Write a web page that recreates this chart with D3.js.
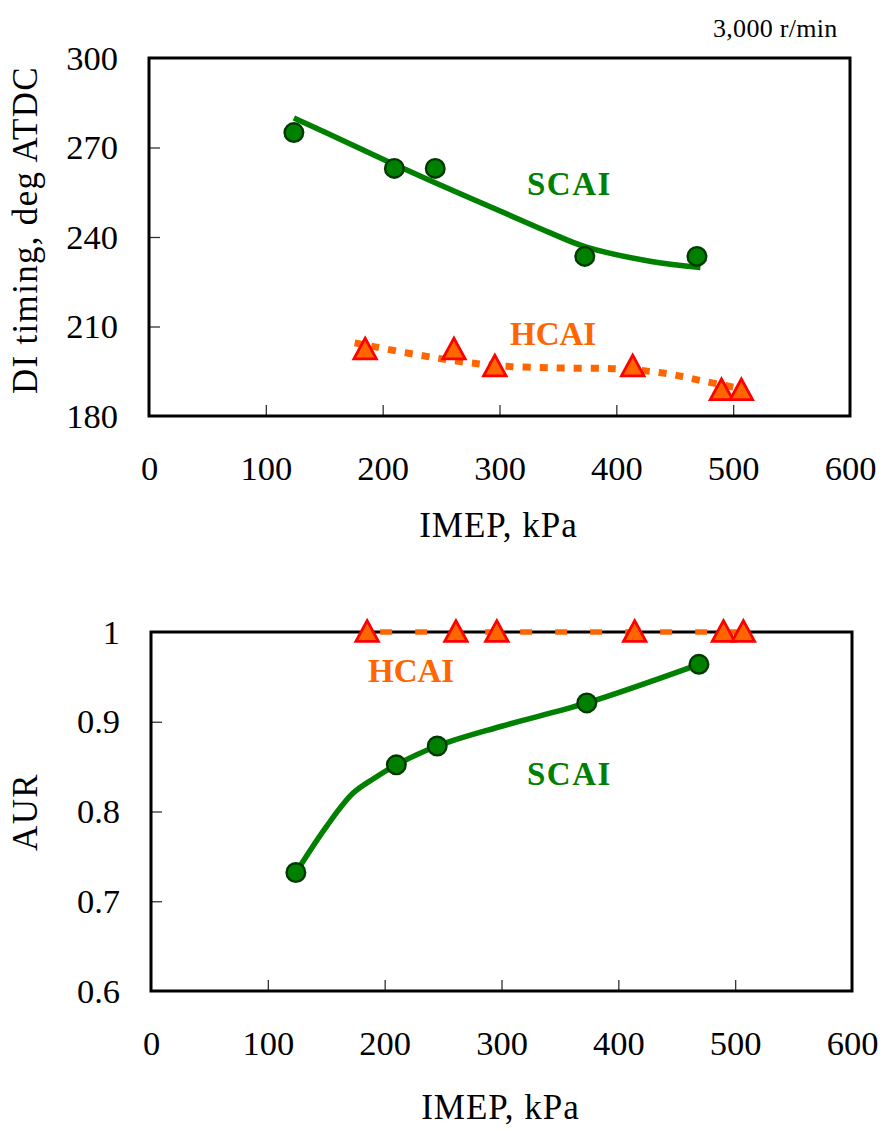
<!DOCTYPE html>
<html>
<head>
<meta charset="utf-8">
<script src="https://cdn.jsdelivr.net/npm/d3@7"></script>
<style>
  html, body { margin: 0; padding: 0; background: #fff; }
  svg { display: block; font-family: "Liberation Serif", "Times New Roman", serif; }
</style>
</head>
<body>
<svg id="chart" width="883" height="1131"></svg>
<script>
// ---- Data ----
// Measured points: IMEP (kPa)
const scaiImep = [124, 210, 245, 373, 469];
const hcaiImep = [185, 261, 296, 414, 490, 507];

// DI timing (deg ATDC)
const scaiTiming = [275, 263, 263, 233.5, 233.5];
const hcaiTiming = [202.3, 202.3, 196.6, 196.6, 188.6, 188.6];

// AUR
const scaiAur = [0.732, 0.852, 0.873, 0.921, 0.964];
const hcaiAur = [1, 1, 1, 1, 1, 1];

// Trend curves, [IMEP, value]
const scaiTimingTrend = [[124, 279.9], [170, 271.6], [209, 264.5], [243, 258.5], [300, 248.8],
                         [344, 241.3], [373, 236.8], [430, 231.8], [472, 229.8]];
const hcaiTimingTrend = [[176, 204.5], [220, 201.2], [260, 198.6], [300, 196.8], [350, 196.1],
                         [400, 195.8], [440, 194.4], [472, 191.9], [505, 189.3]];
const scaiAurTrend = [[124, 0.732], [150, 0.783], [173, 0.8205], [191, 0.837], [210, 0.852],
                      [245, 0.873], [300, 0.895], [373, 0.921], [469, 0.964]];
const hcaiAurTrend = [[185, 1], [507, 1]];

// Axis ticks
const xTicks = [0, 100, 200, 300, 400, 500, 600];
const timingTicks = [180, 210, 240, 270, 300];
const aurTicks = [0.6, 0.7, 0.8, 0.9, 1];

const GREEN = "#008000", GREEN_DARK = "#003a00";
const ORANGE = "#FF6600", RED = "#FF0000";
const SERIF = "'Liberation Serif', 'Times New Roman', serif";

const svg = d3.select("#chart");

function triPath(s) {
  const h = s * 0.92;
  return `M0,${-h * 0.55}L${s / 2},${h * 0.45}L${-s / 2},${h * 0.45}Z`;
}

function panel(opts) {
  const x = d3.scaleLinear().domain([0, 600]).range([opts.left, opts.right]);
  const y = d3.scaleLinear().domain(opts.yDomain).range([opts.bottom, opts.top]);
  const g = svg.append("g");

  // x axis: inward ticks, labels below
  const xAxis = d3.axisBottom(x).tickValues(xTicks).tickSizeInner(-11).tickSizeOuter(0).tickPadding(40);
  const gx = g.append("g").attr("transform", `translate(0,${opts.bottom})`).call(xAxis);
  gx.select(".domain").remove();
  gx.selectAll(".tick line").attr("stroke", "#333").attr("stroke-width", 1.3)
    .filter(d => d === 0 || d === 600).remove();
  gx.selectAll(".tick text").attr("font-size", 34.5).attr("fill", "#000")
    .attr("font-family", SERIF);

  // y axis: inward ticks, labels to the left
  const yAxis = d3.axisLeft(y).tickValues(opts.yTicks).tickFormat(opts.yFormat)
    .tickSizeInner(-11).tickSizeOuter(0).tickPadding(31);
  const gy = g.append("g").attr("transform", `translate(${opts.left},0)`).call(yAxis);
  gy.select(".domain").remove();
  gy.selectAll(".tick line").attr("stroke", "#333").attr("stroke-width", 1.3)
    .filter(d => d === opts.yDomain[0] || d === opts.yDomain[1]).remove();
  gy.selectAll(".tick text").attr("font-size", 34.5).attr("fill", "#000")
    .attr("font-family", SERIF);

  // frame
  g.append("rect")
    .attr("x", opts.left).attr("y", opts.top)
    .attr("width", opts.right - opts.left).attr("height", opts.bottom - opts.top)
    .attr("fill", "none").attr("stroke", "#000").attr("stroke-width", 3);

  // axis titles
  g.append("text")
    .attr("x", (opts.left + opts.right) / 2 - 1).attr("y", opts.xTitleY)
    .attr("text-anchor", "middle").attr("font-size", 35).attr("letter-spacing", 1)
    .text("IMEP, kPa");
  g.append("text")
    .attr("transform", `translate(37,${opts.yTitleY}) rotate(-90)`)
    .attr("text-anchor", "middle").attr("font-size", 35).attr("letter-spacing", 1.3)
    .text(opts.yTitle);

  const line = d3.line().x(d => x(d[0])).y(d => y(d[1])).curve(d3.curveCatmullRom.alpha(0.5));

  // HCAI trend
  g.append("path").datum(opts.hcaiTrend).attr("d", line)
    .attr("fill", "none").attr("stroke", ORANGE).attr("stroke-width", opts.hcaiWidth)
    .attr("stroke-dasharray", opts.hcaiDash).attr("stroke-dashoffset", opts.hcaiOffset);

  // SCAI trend
  g.append("path").datum(opts.scaiTrend).attr("d", line)
    .attr("fill", "none").attr("stroke", GREEN).attr("stroke-width", 5.5)
    .attr("stroke-linejoin", "round");

  // SCAI markers
  g.selectAll("circle.scai").data(d3.zip(scaiImep, opts.scaiVals)).join("circle")
    .attr("class", "scai")
    .attr("cx", d => x(d[0])).attr("cy", d => y(d[1])).attr("r", 9.3)
    .attr("fill", GREEN).attr("stroke", GREEN_DARK).attr("stroke-width", 2.4);

  // HCAI markers
  g.selectAll("path.hcai").data(d3.zip(hcaiImep, opts.hcaiVals)).join("path")
    .attr("class", "hcai")
    .attr("transform", d => `translate(${x(d[0])},${y(d[1])})`)
    .attr("d", triPath(22.5))
    .attr("fill", ORANGE).attr("stroke", RED).attr("stroke-width", 2.8)
    .attr("stroke-linejoin", "miter");

  // series labels
  g.append("text").attr("x", opts.scaiLabel[0]).attr("y", opts.scaiLabel[1])
    .attr("font-size", 33).attr("font-weight", "bold").attr("fill", GREEN)
    .attr("letter-spacing", 1.5).text("SCAI");
  g.append("text").attr("x", opts.hcaiLabel[0]).attr("y", opts.hcaiLabel[1])
    .attr("font-size", 33).attr("font-weight", "bold").attr("fill", ORANGE)
    .text("HCAI");
}

// Top panel: DI timing
panel({
  left: 149, right: 850, top: 58, bottom: 416,
  yDomain: [180, 300], yTicks: timingTicks, yFormat: d3.format("d"),
  yTitle: "DI timing, deg ATDC", yTitleY: 230, xTitleY: 537,
  scaiVals: scaiTiming, hcaiVals: hcaiTiming,
  scaiTrend: scaiTimingTrend, hcaiTrend: hcaiTimingTrend,
  hcaiWidth: 7, hcaiDash: "8,9", hcaiOffset: 0,
  scaiLabel: [527, 195], hcaiLabel: [510, 345]
});

// Bottom panel: AUR
panel({
  left: 151, right: 852, top: 632, bottom: 991,
  yDomain: [0.6, 1], yTicks: aurTicks, yFormat: d => (d === 1 ? "1" : d3.format(".1f")(d)),
  yTitle: "AUR", yTitleY: 812, xTitleY: 1119,
  scaiVals: scaiAur, hcaiVals: hcaiAur,
  scaiTrend: scaiAurTrend, hcaiTrend: hcaiAurTrend,
  hcaiWidth: 5.5, hcaiDash: "12,23", hcaiOffset: 22,
  scaiLabel: [527, 785], hcaiLabel: [368, 682]
});

// Engine speed note
svg.append("text").attr("x", 713).attr("y", 37).attr("font-size", 26)
  .attr("letter-spacing", 0.3).text("3,000 r/min");
</script>
</body>
</html>
